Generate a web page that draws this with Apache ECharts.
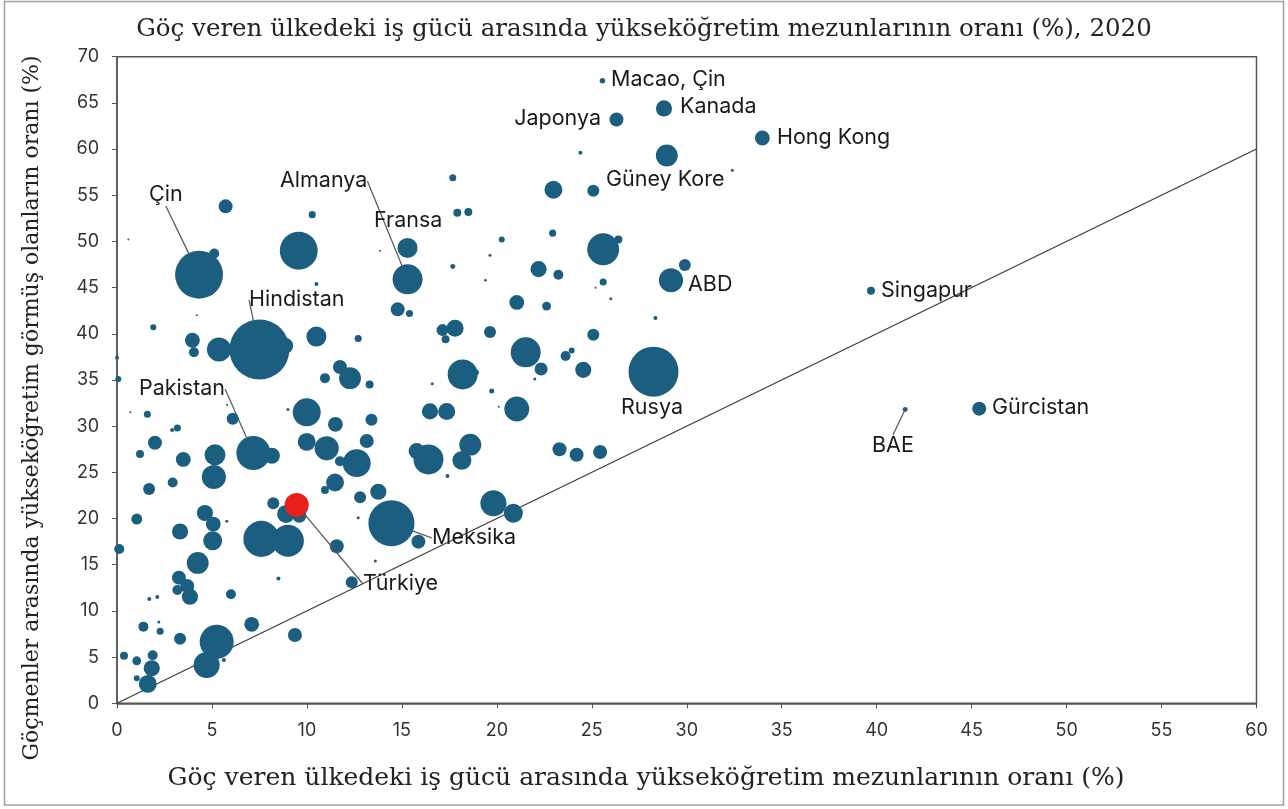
<!DOCTYPE html>
<html>
<head>
<meta charset="utf-8">
<script src="https://cdn.jsdelivr.net/npm/echarts@6/dist/echarts.min.js"></script>
<style>html,body{margin:0;padding:0;background:#fff;}#c{width:1288px;height:809px;}</style>
</head>
<body>
<div id="c"></div>
<script>
// Share of tertiary graduates in origin-country labour force (%)
const originShare = [4.32,7.5,7.18,14.45,28.25,15.3,15.3,25.56,28.8,26.3,33.98,28.95,29.17,39.7,41.5,45.4,
5.72,10.28,0.6,9.57,5.12,13.85,8.85,5.37,3.97,4.05,1.91,10.5,12.7,10.5,4.2,0.0,0.07,11.74,12.27,10.95,13.3,9.99,9.0,9.85,11.5,13.4,5.8,6.09,1.6,0.7,3.18,2.9,2.0,1.21,3.49,5.16,5.1,2.93,1.69,8.15,9.99,11.04,13.15,12.62,11.74,11.48,10.95,13.76,12.8,8.23,1.04,4.63,5.07,5.04,3.32,5.78,7.6,9.0,8.9,9.6,0.12,4.25,11.57,8.5,13.6,12.7,12.36,3.26,3.7,3.84,3.18,6.0,1.7,2.12,7.09,1.39,2.2,2.27,3.32,9.37,5.25,4.72,5.63,0.37,1.04,1.88,1.83,1.04,1.62,
24.4,17.68,22.98,25.08,17.92,18.5,22.94,20.26,19.64,17.68,25.6,26.4,22.2,23.24,19.4,25.6,25.2,26.0,28.35,14.78,15.4,21.05,22.62,17.14,17.8,17.3,19.64,25.08,21.52,22.33,22.0,23.62,23.94,24.55,18.2,18.9,16.6,19.73,20.1,16.48,17.36,21.05,16.4,15.78,18.6,18.16,17.4,23.3,24.2,25.44,19.82,20.87,15.87,29.9,32.4];
// Share of tertiary-educated among emigrants (%)
const migrantShare = [46.4,38.3,27.1,19.5,35.9,45.9,49.3,67.4,64.4,63.2,61.2,59.3,45.8,44.65,31.8,31.9,
53.8,52.9,50.2,49.0,48.7,49.0,38.7,38.3,39.3,38.0,40.7,39.7,39.5,45.4,42.0,37.4,35.1,36.4,35.2,35.2,34.5,31.5,31.8,30.1,30.2,30.7,32.3,30.8,31.3,31.5,29.8,29.6,28.2,27.0,26.4,26.9,24.5,23.9,23.2,26.8,28.3,27.6,28.4,26.0,26.2,23.9,23.1,22.9,22.3,21.65,19.95,20.6,19.4,17.6,18.6,19.7,17.8,17.6,20.5,20.3,16.7,15.2,17.0,13.5,15.4,20.1,13.1,13.6,12.7,11.54,12.27,11.8,11.3,11.5,8.55,8.3,8.8,7.8,7.0,7.4,6.67,4.15,4.7,5.15,4.6,5.2,3.8,2.7,2.1,
59.6,56.9,55.6,55.5,53.1,53.2,50.9,50.2,48.5,47.3,49.15,50.2,47.0,46.4,45.8,45.6,45.0,43.8,41.7,42.65,42.2,43.4,43.0,40.4,40.6,39.4,40.2,39.9,38.0,36.2,35.1,37.6,38.2,36.1,35.6,35.8,34.6,33.8,32.1,31.6,31.6,31.86,26.4,27.3,28.0,26.3,24.6,27.5,26.9,27.2,21.65,20.57,17.5,47.45,57.7];
// Emigrant stock (millions)
const emigrantStock = [11.5,18.0,5.8,10.6,12.5,4.5,2.0,0.15,1.3,0.98,1.1,2.4,2.9,0.32,0.125,0.98,
0.98,0.25,0.02,7.2,0.5,0.02,1.3,2.9,1.1,0.5,0.18,2.0,0.25,0.08,0.02,0.08,0.18,0.98,2.4,0.5,0.32,3.9,0.045,0.02,1.1,0.72,0.02,0.72,0.25,0.02,0.25,0.08,0.98,0.32,1.1,2.2,2.9,0.5,0.72,1.3,1.6,2.9,0.98,3.9,0.5,1.6,0.32,1.3,0.72,0.72,0.6,1.3,1.1,1.8,1.3,0.045,6.5,5.1,1.6,0.98,0.5,2.4,0.98,0.08,0.045,0.045,0.72,0.98,0.98,1.3,0.5,0.5,0.08,0.08,1.1,0.5,0.045,0.25,0.72,0.98,5.8,3.4,0.08,0.32,0.4,0.5,1.3,0.18,1.6,
0.08,0.25,1.6,0.72,0.32,0.32,0.25,0.18,0.045,0.125,5.1,0.32,1.3,0.5,0.035,0.25,0.02,0.045,0.08,0.98,0.25,1.1,0.4,0.72,1.45,0.32,0.72,0.72,4.5,0.85,0.045,0.5,0.18,1.3,4.5,0.18,0.045,0.125,0.02,1.3,1.45,3.1,4.5,1.3,2.4,1.8,0.08,0.98,0.98,0.98,3.4,1.8,0.98,0.72,0.045];
// Country names (labelled ones only)
const countryNames = ['Çin','Hindistan','Pakistan','Meksika','Rusya','Almanya','Fransa','Macao, Çin','Kanada','Japonya','Hong Kong','Güney Kore','ABD','Singapur','BAE','Gürcistan'];
// Highlighted country (Türkiye)
const turkiye = {name:'Türkiye', x:9.46, y:21.47, stock:2.9};
const xTicks = [0,5,10,15,20,25,30,35,40,45,50,55,60];
const yTicks = [0,5,10,15,20,25,30,35,40,45,50,55,60,65,70];
const diagonal = [0, 60];

// label placement (annotation layout, pixels)
const labelSpots = {
  'Macao, Çin':{x:611,y:80,align:'left',line:false},
  'Kanada':{x:680,y:107,align:'left',line:false},
  'Japonya':{x:601,y:119,align:'right',line:false},
  'Hong Kong':{x:777,y:138,align:'left',line:false},
  'Güney Kore':{x:606,y:180,align:'left',line:false},
  'Almanya':{x:280,y:181,align:'left',line:true},
  'Çin':{x:149,y:195,align:'left',line:true},
  'Fransa':{x:374,y:221,align:'left',line:false},
  'ABD':{x:688,y:285,align:'left',line:false},
  'Singapur':{x:881,y:291,align:'left',line:false},
  'Hindistan':{x:249,y:300,align:'left',line:true},
  'Pakistan':{x:139,y:389,align:'left',line:true},
  'Rusya':{x:621,y:408,align:'left',line:false},
  'Gürcistan':{x:992,y:408,align:'left',line:false},
  'BAE':{x:872,y:446,align:'left',line:true},
  'Meksika':{x:432,y:538,align:'left',line:true},
  'Türkiye':{x:363,y:584,align:'left',line:true}
};

const BLUE = '#1b5e7f';
const RED = '#e8201c';
const LABEL_FONT = 'Inter';
const sizeOf = v => 2 * 7.07 * Math.sqrt(v[2]);

const pts = originShare.map((x, i) => {
  const nm = countryNames[i] || '';
  const item = {value:[x, migrantShare[i], emigrantStock[i]], name: nm};
  if (nm) {
    item.label = {show:true, formatter: nm};
    item.labelLine = {show: labelSpots[nm].line};
  }
  return item;
});

const layoutFn = p => {
  const s = labelSpots[p.name] || labelSpots[p.text];
  if (!s) return {};
  return {x: s.x, y: s.y, align: s.align, verticalAlign: 'middle'};
};

const labelStyle = {show:false, color:'#1a1a1a', fontSize:21.5, fontFamily:LABEL_FONT};
const lineStyle = {show:true, lineStyle:{color:'#555', width:1.2}};
const tickFont = {color:'#333', fontSize:18, fontFamily:'Inter'};

const chart = echarts.init(document.getElementById('c'), null, {renderer:'canvas'});
chart.setOption({
  animation:false,
  backgroundColor:'#fff',
  title:{
    text:'Göç veren ülkedeki iş gücü arasında yükseköğretim mezunlarının oranı (%), 2020',
    left:'center', top:12,
    textStyle:{fontFamily:'DejaVu Serif', fontWeight:'normal', fontSize:24.5, color:'#222'}
  },
  grid:{left:117, top:56.7, right:31.5, bottom:105.7, show:true, borderColor:'#555', borderWidth:1.5, backgroundColor:'transparent'},
  xAxis:{
    type:'value', min:xTicks[0], max:xTicks[xTicks.length-1], interval:xTicks[1]-xTicks[0],
    splitLine:{show:false},
    axisLine:{show:true, lineStyle:{color:'#555', width:1.5}},
    axisTick:{show:true, inside:false, length:5, lineStyle:{color:'#555'}},
    axisLabel:Object.assign({margin:18}, tickFont)
  },
  yAxis:{
    type:'value', min:yTicks[0], max:yTicks[yTicks.length-1], interval:yTicks[1]-yTicks[0],
    splitLine:{show:false},
    axisLine:{show:true, lineStyle:{color:'#555', width:1.5}},
    axisTick:{show:true, inside:false, length:5, lineStyle:{color:'#555'}},
    axisLabel:Object.assign({margin:18}, tickFont)
  },
  graphic:[
    {type:'rect', shape:{x:4.5, y:1.5, width:1279, height:803.5}, style:{fill:'none', stroke:'#a0a0a0', lineWidth:1.5}, silent:true, z:-1},
    {type:'text', x:646, y:778, style:{text:'Göç veren ülkedeki iş gücü arasında yükseköğretim mezunlarının oranı (%)', font:'25px "DejaVu Serif"', fill:'#222', textAlign:'center', textVerticalAlign:'middle'}},
    {type:'text', x:32, y:408, rotation:Math.PI/2, style:{text:'Göçmenler arasında yükseköğretim görmüş olanların oranı (%)', font:'22px "DejaVu Serif"', fill:'#222', textAlign:'center', textVerticalAlign:'middle'}}
  ],
  series:[
    {
      type:'line', data:diagonal.map(v => [v, v]), symbol:'none', silent:true,
      lineStyle:{color:'#3a3a3a', width:1.2}, z:1
    },
    {
      type:'scatter', data:pts, symbolSize:sizeOf,
      itemStyle:{color:BLUE, opacity:1},
      label:labelStyle, labelLine:lineStyle, labelLayout:layoutFn, z:2
    },
    {
      type:'scatter', data:[{value:[turkiye.x, turkiye.y, turkiye.stock], name:turkiye.name,
        label:{show:true, formatter:turkiye.name}, labelLine:{show:true}}],
      symbolSize:sizeOf, itemStyle:{color:RED, opacity:1},
      label:labelStyle, labelLine:lineStyle, labelLayout:layoutFn, z:3
    }
  ]
});
</script>
</body>
</html>
